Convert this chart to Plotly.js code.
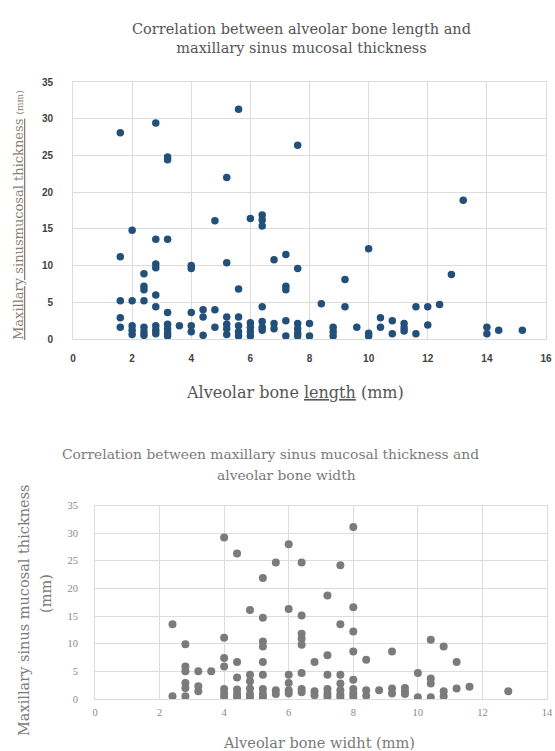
<!DOCTYPE html>
<html>
<head>
<meta charset="utf-8">
<script src="https://cdn.plot.ly/plotly-3.0.1.min.js"></script>
<style>html,body{margin:0;padding:0;background:#fff;}#chart{width:555px;height:751px;}</style>
</head>
<body>
<div id="chart"></div>
<script>
// Chart 1: alveolar bone length (mm) vs maxillary sinus mucosal thickness (mm)
var boneLength = [
  1.6,1.6,1.6,1.6,1.6,
  2.0,2.0,2.0,2.0,2.0,
  2.4,2.4,2.4,2.4,2.4,2.4,2.4,
  2.8,2.8,2.8,2.8,2.8,2.8,2.8,2.8,2.8,
  3.2,3.2,3.2,3.2,3.2,3.2,3.2,3.2,
  3.6,
  4.0,4.0,4.0,4.0,4.0,
  4.4,4.4,4.4,
  4.8,4.8,4.8,
  5.2,5.2,5.2,5.2,5.2,5.2,
  5.6,5.6,5.6,5.6,5.6,5.6,
  6.0,6.0,6.0,6.0,6.0,
  6.4,6.4,6.4,6.4,6.4,6.4,6.4,
  6.8,6.8,6.8,
  7.2,7.2,7.2,7.2,7.2,
  7.6,7.6,7.6,7.6,7.6,7.6,
  8.0,8.0,
  8.4,
  8.8,8.8,8.8,
  9.2,9.2,
  9.6,
  10.0,10.0,10.0,
  10.4,10.4,
  10.8,10.8,
  11.2,11.2,11.2,
  11.6,11.6,
  12.0,12.0,
  12.4,
  12.8,
  13.2,
  14.0,14.0,
  14.4,
  15.2
];
var thicknessLength = [
  28.1,11.2,5.2,2.9,1.6,
  14.8,5.2,1.8,1.2,0.6,
  8.9,7.2,6.7,5.2,1.6,1.0,0.5,
  29.4,13.6,10.2,9.7,6.0,4.4,1.8,1.2,0.7,
  24.8,24.4,13.6,3.6,2.0,1.4,0.8,0.4,
  1.8,
  10.0,9.6,3.6,1.8,1.0,
  4.0,3.0,0.5,
  16.1,4.0,1.6,
  22.0,10.4,3.0,2.0,1.4,0.6,
  31.3,6.8,3.0,1.8,1.0,0.4,
  16.4,2.2,1.6,1.0,0.4,
  16.9,16.2,15.4,4.4,2.4,1.6,1.2,
  10.8,2.1,1.4,
  11.5,7.2,6.7,2.5,0.4,
  26.4,9.6,2.1,1.4,0.8,0.4,
  2.1,0.4,
  4.8,
  1.6,1.0,0.4,
  8.1,4.4,
  1.6,
  12.3,0.8,0.4,
  2.9,1.6,
  2.5,0.7,
  2.1,1.5,1.1,
  4.4,0.7,
  4.4,1.9,
  4.7,
  8.8,
  18.9,
  1.6,0.7,
  1.2,
  1.2
];

// Chart 2: alveolar bone width (mm) vs maxillary sinus mucosal thickness (mm)
var boneWidth = [
  2.4,2.4,
  2.8,2.8,2.8,2.8,2.8,2.8,
  3.2,3.2,3.2,
  3.6,
  4.0,4.0,4.0,4.0,4.0,4.0,4.0,
  4.4,4.4,4.4,4.4,4.4,4.4,
  4.8,4.8,4.8,4.8,4.8,4.8,
  5.2,5.2,5.2,5.2,5.2,5.2,5.2,5.2,5.2,
  5.6,5.6,5.6,
  6.0,6.0,6.0,6.0,6.0,6.0,
  6.4,6.4,6.4,6.4,6.4,6.4,6.4,6.4,
  6.8,6.8,6.8,
  7.2,7.2,7.2,7.2,7.2,7.2,
  7.6,7.6,7.6,7.6,7.6,7.6,7.6,
  8.0,8.0,8.0,8.0,8.0,8.0,8.0,8.0,
  8.4,8.4,8.4,
  8.8,
  9.2,9.2,9.2,
  9.6,9.6,9.6,
  10.0,10.0,
  10.4,10.4,10.4,10.4,
  10.8,10.8,10.8,
  11.2,11.2,
  11.6,
  12.8
];
var thicknessWidth = [
  13.5,0.5,
  9.9,5.9,5.0,2.9,2.0,0.5,
  5.0,2.3,1.4,
  5.0,
  29.2,11.1,7.4,5.9,1.8,1.0,0.4,
  26.3,6.7,3.9,1.7,0.9,0.3,
  16.1,4.4,3.2,1.9,0.9,0.3,
  21.9,14.7,10.4,9.5,6.7,4.4,1.8,0.9,0.3,
  24.7,1.6,0.9,
  28.0,16.3,4.4,2.9,1.6,1.0,
  24.7,15.1,11.8,10.9,9.8,4.7,1.8,1.2,
  6.7,1.4,0.7,
  18.7,7.9,4.4,1.8,1.0,0.4,
  24.2,13.5,4.4,2.8,1.6,0.8,0.3,
  31.1,16.6,12.2,8.6,3.5,1.8,1.0,0.4,
  7.1,1.6,0.6,
  1.6,
  8.6,1.9,1.0,
  2.0,1.4,0.9,
  4.7,0.3,
  10.7,3.7,2.8,0.3,
  9.5,1.4,0.5,
  6.7,1.9,
  2.2,
  1.4
];

var W = 555, H = 751;
function px(x){ return x / W; }
function py(y){ return 1 - y / H; }

var gridC = '#dcdcdc';
var serif = 'DejaVu Serif, Liberation Serif, serif';

var traces = [
  {
    type: 'scatter', mode: 'markers', x: boneLength, y: thicknessLength,
    xaxis: 'x', yaxis: 'y',
    marker: {color: '#22507a', size: 7.5, line: {width: 0}},
    hoverinfo: 'x+y', showlegend: false
  },
  {
    type: 'scatter', mode: 'markers', x: boneWidth, y: thicknessWidth,
    xaxis: 'x2', yaxis: 'y2',
    marker: {color: '#7b7b7b', size: 8, line: {width: 0}},
    hoverinfo: 'x+y', showlegend: false
  }
];

var topTick = {family: 'Liberation Sans, Arial, sans-serif', size: 10, color: '#3f3f3f', weight: 'bold'};
var botTick = {family: 'Liberation Serif, serif', size: 10.5, color: '#8a8a8a'};

var layout = {
  width: W, height: H,
  margin: {l: 0, r: 0, t: 0, b: 0},
  paper_bgcolor: '#ffffff', plot_bgcolor: '#ffffff',
  showlegend: false,
  xaxis: {
    domain: [px(73), px(546)], anchor: 'y', range: [0, 16], dtick: 2, tick0: 0,
    showgrid: true, gridcolor: gridC, gridwidth: 1, zeroline: false,
    showline: true, mirror: true, linecolor: gridC, linewidth: 1,
    ticks: '', tickfont: topTick, ticklabelstandoff: 10, fixedrange: true
  },
  yaxis: {
    domain: [py(339), py(82)], anchor: 'x', range: [0, 35], dtick: 5, tick0: 0,
    showgrid: true, gridcolor: gridC, gridwidth: 1, zeroline: false,
    showline: true, mirror: true, linecolor: gridC, linewidth: 1,
    ticks: '', tickfont: topTick, ticklabelstandoff: 17, fixedrange: true
  },
  xaxis2: {
    domain: [px(95), px(547)], anchor: 'y2', range: [0, 14], dtick: 2, tick0: 0,
    showgrid: true, gridcolor: gridC, gridwidth: 1, zeroline: false,
    showline: true, mirror: true, linecolor: gridC, linewidth: 1,
    ticks: '', tickfont: botTick, ticklabelstandoff: 3, fixedrange: true
  },
  yaxis2: {
    domain: [py(699), py(505.5)], anchor: 'x2', range: [0, 35], dtick: 5, tick0: 0,
    showgrid: true, gridcolor: gridC, gridwidth: 1, zeroline: false,
    showline: true, mirror: true, linecolor: gridC, linewidth: 1,
    ticks: '', tickfont: botTick, ticklabelstandoff: 14, fixedrange: true
  },
  annotations: [
    {text: 'Correlation between alveolar bone length and<br>maxillary sinus mucosal thickness', x: px(301), y: py(38.5),
     font: {family: serif, size: 14.5, color: '#555555'}},
    {text: 'Alveolar bone <u>length</u> (mm)', x: px(295), y: py(393),
     font: {family: serif, size: 16, color: '#555555'}},
    {text: '<u>Maxillary sinusmucosal thickness</u> <span style="font-size:9px">(mm)</span>',
     x: px(18), y: py(215), textangle: -90,
     font: {family: serif, size: 13, color: '#8a7f78'}},
    {text: 'Correlation between maxillary sinus mucosal thickness and', x: px(270), y: py(454),
     font: {family: serif, size: 13.8, color: '#7a7a7a'}},
    {text: 'alveolar bone width', x: px(286), y: py(475),
     font: {family: serif, size: 13.8, color: '#7a7a7a'}},
    {text: 'Alveolar bone widht (mm)', x: px(319), y: py(743),
     font: {family: serif, size: 14.5, color: '#7a7a7a'}},
    {text: 'Maxillary sinus mucosal thickness', x: px(24), y: py(610), textangle: -90,
     font: {family: serif, size: 14.5, color: '#7a7a7a'}},
    {text: '(mm)', x: px(46), y: py(594), textangle: -90,
     font: {family: serif, size: 14.5, color: '#7a7a7a'}}
  ].map(function(a){
    return Object.assign({xref: 'paper', yref: 'paper', xanchor: 'center', yanchor: 'middle', showarrow: false}, a);
  })
};

Plotly.newPlot('chart', traces, layout, {displayModeBar: false, staticPlot: true});
</script>
</body>
</html>
